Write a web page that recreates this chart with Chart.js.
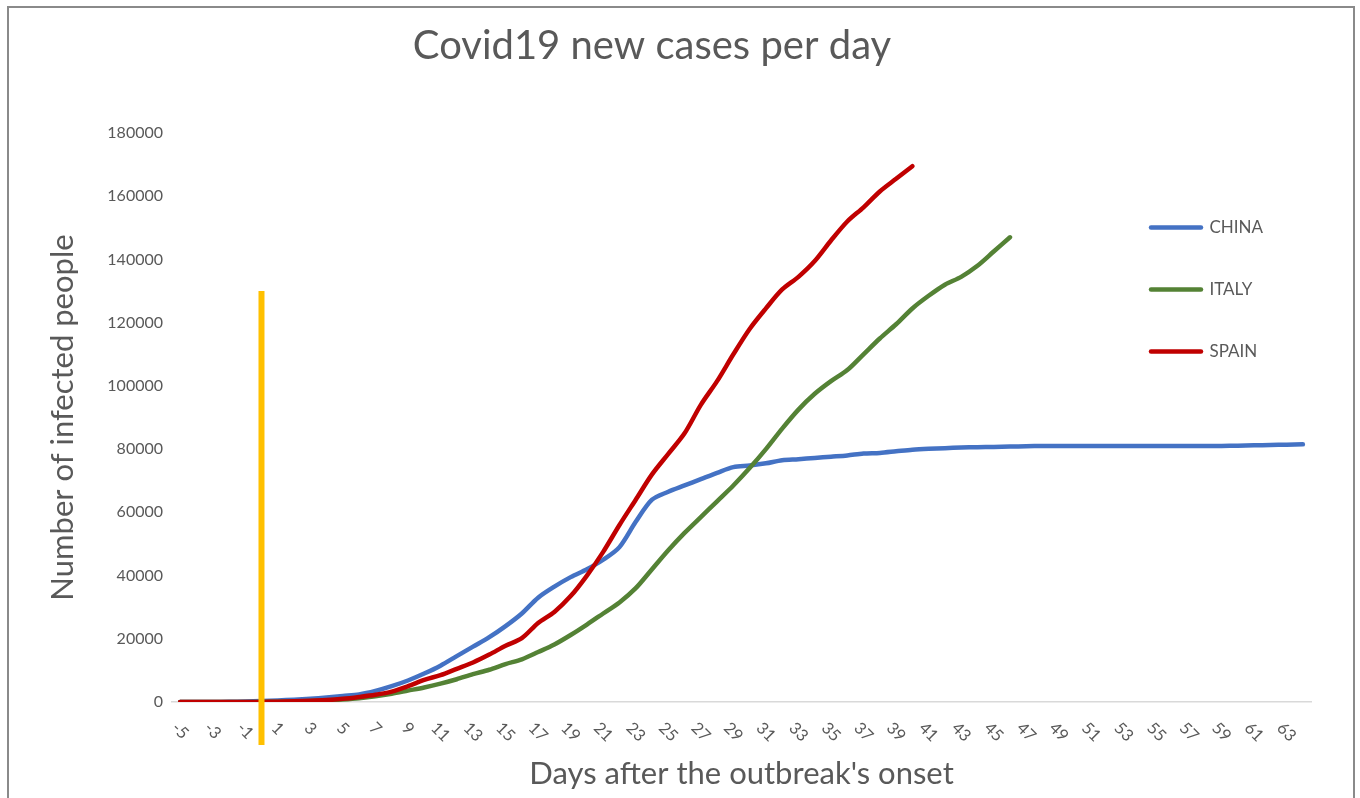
<!DOCTYPE html>
<html>
<head>
<meta charset="utf-8">
<title>Covid19 new cases per day</title>
<script src="https://cdn.jsdelivr.net/npm/chart.js@4.4.1/dist/chart.umd.min.js"></script>
<style>
  html, body { margin: 0; padding: 0; background: #fff; }
  #wrap { width: 1360px; height: 798px; }
</style>
</head>
<body>
<div id="wrap"><canvas id="chart" width="1360" height="798"></canvas></div>
<script>
// days relative to the outbreak's onset
var days = ['-5','-4','-3','-2','-1','0','1','2','3','4','5','6','7','8','9','10',
	'11','12','13','14','15','16','17','18','19','20','21','22','23','24','25','26',
	'27','28','29','30','31','32','33','34','35','36','37','38','39','40','41','42',
	'43','44','45','46','47','48','49','50','51','52','53','54','55','56','57','58',
	'59','60','61','62','63','64'];

// cumulative cases
var china = [0, 0, 0, 50, 150, 300, 500, 700, 1000, 1400, 1900, 2400, 3500, 5000, 6800, 9000,
	11500, 14500, 17500, 20500, 24000, 28000, 33000, 36500, 39500, 42000, 45000, 49000, 57000, 64000, 66500, 68500,
	70500, 72500, 74300, 74800, 75500, 76500, 76800, 77200, 77600, 78000, 78600, 78800, 79300, 79800, 80100, 80300,
	80500, 80600, 80700, 80800, 80900, 81000, 81000, 81000, 81000, 81000, 81000, 81000, 81000, 81000, 81000, 81000,
	81000, 81100, 81200, 81300, 81400, 81500];
var italy = [0, 0, 0, 0, 0, 0, 100, 200, 300, 500, 800, 1200, 1800, 2600, 3600, 4600,
	5800, 7200, 8800, 10200, 12000, 13500, 15800, 18200, 21200, 24500, 28000, 31500, 36000, 42000, 48000, 53500,
	58500, 63500, 68500, 74000, 80000, 86500, 92500, 97500, 101500, 105000, 110000, 115000, 119500, 124500, 128500, 132000,
	134500, 138000, 142500, 147000];
var spain = [0, 0, 0, 0, 0, 0, 100, 200, 400, 600, 1000, 1600, 2300, 3300, 5000, 7000,
	8500, 10500, 12500, 15000, 17800, 20200, 25000, 28500, 33500, 40000, 47500, 56000, 64000, 72000, 78500, 85000,
	94000, 101500, 110000, 118000, 124500, 130500, 134500, 139500, 146000, 152000, 156500, 161500, 165500, 169500];

// the onset marker (yellow bar)
var onsetDay = '0';
var onsetTop = 130000;
var onsetBottom = -13600;

var chartTitle = 'Covid19 new cases per day';
var yTitle = 'Number of infected people';
var xTitle = "Days after the outbreak's onset";

var textGrey = '#595959';
var lineWidth = 4.5;
Chart.defaults.font.family = 'Lato';
Chart.defaults.color = textGrey;

var decorations = {
	id: 'decorations',
	beforeDraw: function(chart) {
		var ctx = chart.ctx;
		ctx.save();
		ctx.fillStyle = '#fff';
		ctx.fillRect(0, 0, chart.width, chart.height);
		ctx.strokeStyle = '#8a8a8a';
		ctx.lineWidth = 2;
		ctx.strokeRect(8, 7, 1346, 900);
		ctx.restore();
		// excel puts the legend over the plot area, on the right
		var lg = chart.legend;
		lg.left = 1106;
		lg.right = lg.left + lg.width;
		lg.top = 174;
		lg.bottom = lg.top + 400;
	},
	afterDraw: function(chart) {
		var ctx = chart.ctx, xs = chart.scales.x;
		ctx.save();
		ctx.fillStyle = textGrey;
		ctx.textAlign = 'center';
		ctx.textBaseline = 'middle';
		ctx.font = '40px Lato';
		ctx.fillText(chartTitle, 652, 46);
		// day labels, every other one, turned 45 degrees clockwise
		ctx.font = '16.5px Lato';
		days.forEach(function(d, i) {
			if (i % 2) return;
			var x = xs.getPixelForValue(i);
			var w = ctx.measureText(d).width;
			var cy = xs.top + 19 + (w + 12) * 0.354;
			ctx.save();
			ctx.translate(x, cy);
			ctx.rotate(Math.PI / 4);
			ctx.fillText(d, 0, 0);
			ctx.restore();
		});
		ctx.restore();
	}
};

function legendLabels(chart) {
	var items = Chart.defaults.plugins.legend.labels.generateLabels(chart);
	items.forEach(function(it) {
		var ds = chart.data.datasets[it.datasetIndex];
		it.strokeStyle = ds.borderColor;
		it.lineWidth = lineWidth;
		it.lineCap = 'round';
		it.pointStyle = 'line';
	});
	return items;
}

var c = new Chart(document.getElementById('chart'), {
	type: 'line',
	data: {
		labels: days,
		datasets: [
			{ label: 'CHINA', data: china, borderColor: '#4472C4', order: 3 },
			{ label: 'ITALY', data: italy, borderColor: '#548235', order: 2 },
			{ label: 'SPAIN', data: spain, borderColor: '#C00000', order: 1 },
			{
				label: 'onset',
				data: [{ x: onsetDay, y: onsetTop }, { x: onsetDay, y: onsetBottom }],
				borderColor: '#FFC000', borderWidth: 6, borderCapStyle: 'butt',
				tension: 0, clip: false, order: 0
			}
		]
	},
	options: {
		responsive: false,
		animation: false,
		layout: { padding: { left: 0, right: 49, top: 133, bottom: 0 } },
		elements: {
			line: { borderWidth: lineWidth, tension: 0.3, borderCapStyle: 'round', fill: false },
			point: { radius: 0, hoverRadius: 0 }
		},
		plugins: {
			title: { display: false },
			tooltip: { enabled: false },
			legend: {
				position: 'chartArea',
				align: 'start',
				labels: {
					usePointStyle: true,
					pointStyle: 'line',
					pointStyleWidth: 50,
					padding: 45,
					color: textGrey,
					font: { size: 17 },
					generateLabels: legendLabels,
					filter: function(item) { return item.text !== 'onset'; },
					sort: function(a, b) { return a.datasetIndex - b.datasetIndex; }
				}
			}
		},
		scales: {
			x: {
				offset: true,
				grid: { display: false },
				border: { color: '#d9d9d9', width: 1.5 },
				ticks: { display: false },
				title: { display: true, text: xTitle, color: textGrey, font: { size: 31 }, padding: { top: 0, bottom: 5 } },
				afterFit: function(s) { s.height = 96; }
			},
			y: {
				min: 0,
				max: 180000,
				grid: { display: false, drawTicks: false },
				border: { display: false },
				ticks: {
					stepSize: 20000,
					padding: 9,
					color: textGrey,
					font: { size: 16 },
					callback: function(v) { return String(v); }
				},
				title: { display: true, text: yTitle, color: textGrey, font: { size: 31 }, padding: { top: 44, bottom: 0 } },
				afterFit: function(s) { s.width = 172; }
			}
		}
	},
	plugins: [decorations]
});
</script>
</body>
</html>
